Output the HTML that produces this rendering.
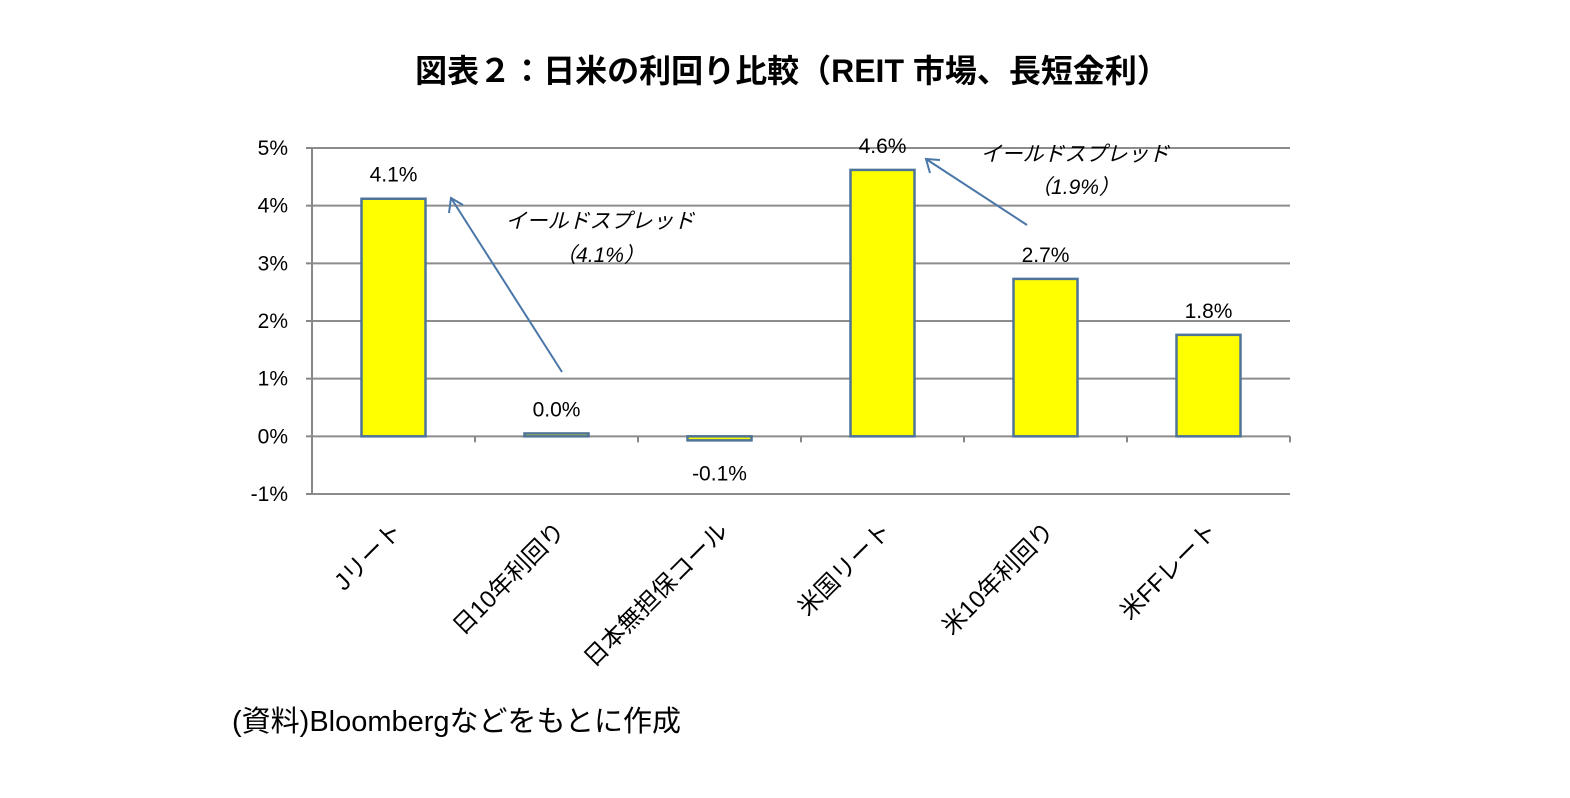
<!DOCTYPE html>
<html><head><meta charset="utf-8"><style>
body{margin:0;background:#fff;width:1570px;height:793px;overflow:hidden;font-family:"Liberation Sans","Noto Sans CJK JP",sans-serif}
</style></head><body>
<svg id="chart" width="1570" height="793" xmlns="http://www.w3.org/2000/svg" font-family="Liberation Sans, Noto Sans CJK JP, sans-serif">
<text x="792" y="82" text-anchor="middle" font-size="32" font-weight="bold" fill="#000">図表２：日米の利回り比較（REIT 市場、長短金利）</text>
<g id="grid"></g><g id="bars"></g><g id="labels"></g>
<g font-style="italic" font-size="21" fill="#000" text-anchor="middle">
<text x="600" y="228">イールドスプレッド</text>
<text x="600" y="262">（4.1%）</text>
<text x="1075" y="161">イールドスプレッド</text>
<text x="1075" y="194">（1.9%）</text>
</g>
<g stroke="#4a76a8" stroke-width="2" fill="none">
<line x1="562" y1="372" x2="451" y2="198"/>
<polyline points="449,213 451,198 463,205"/>
<line x1="1027" y1="225" x2="926" y2="159"/>
<polyline points="930,173 926,159 940,160"/>
</g>
<text x="232" y="731" font-size="29" fill="#000">(資料)Bloombergなどをもとに作成</text>
</svg>
<script>
const categories=["Jリート","日10年利回り","日本無担保コール","米国リート","米10年利回り","米FFレート"];
const values=[4.12,0.05,-0.07,4.62,2.73,1.76];
const valueLabels=["4.1%","0.0%","-0.1%","4.6%","2.7%","1.8%"];
const ticks=[-1,0,1,2,3,4,5];
const tickLabels=["-1%","0%","1%","2%","3%","4%","5%"];
const NS="http://www.w3.org/2000/svg";
const x0=312,x1=1290,yTop=148,yBot=494,vMin=-1,vMax=5;
const y=v=>yBot-(v-vMin)/(vMax-vMin)*(yBot-yTop);
const cw=(x1-x0)/categories.length;
const cx=i=>x0+cw*(i+0.5);
function mk(t,a,p){const e=document.createElementNS(NS,t);for(const k in a)e.setAttribute(k,a[k]);p.appendChild(e);return e;}
const g=document.getElementById('grid'),b=document.getElementById('bars'),l=document.getElementById('labels');
ticks.forEach((t,i)=>{
const ln=mk('line',{x1:x0,x2:x1,y1:y(t),y2:y(t),stroke:'#8c8c8c','stroke-width':2},g);


mk('line',{x1:x0-6,x2:x0,y1:y(t),y2:y(t),stroke:'#888','stroke-width':2},g);
const tx=mk('text',{x:x0-24,y:y(t)+7,'text-anchor':'end','font-size':21,fill:'#000'},g);
tx.textContent=tickLabels[i];


});
const ax=mk('line',{x1:x0,x2:x0,y1:yTop,y2:yBot,stroke:'#888','stroke-width':2},g);


for(let i=0;i<=categories.length;i++){mk('line',{x1:x0+cw*i,x2:x0+cw*i,y1:y(0),y2:y(0)+6,stroke:'#888','stroke-width':2},g);}
categories.forEach((c,i)=>{
const v=values[i],top=Math.min(y(v),y(0)),h=Math.max(Math.abs(y(v)-y(0)),2);
const r=mk('rect',{x:cx(i)-32,y:top,width:64,height:h,fill:'#ffff00',stroke:'#4f7399','stroke-width':2.5},b);


const vl=mk('text',{x:cx(i),y:v>=0?y(v)-17:y(v)+40,'text-anchor':'middle','font-size':21,fill:'#000'},l);
vl.textContent=valueLabels[i];


const cl=mk('text',{x:0,y:0,'text-anchor':'end','font-size':24,fill:'#000',transform:`translate(${cx(i)+10},${y(0)+96}) rotate(-45)`},l);
cl.textContent=c;


});
</script>
</body></html>
